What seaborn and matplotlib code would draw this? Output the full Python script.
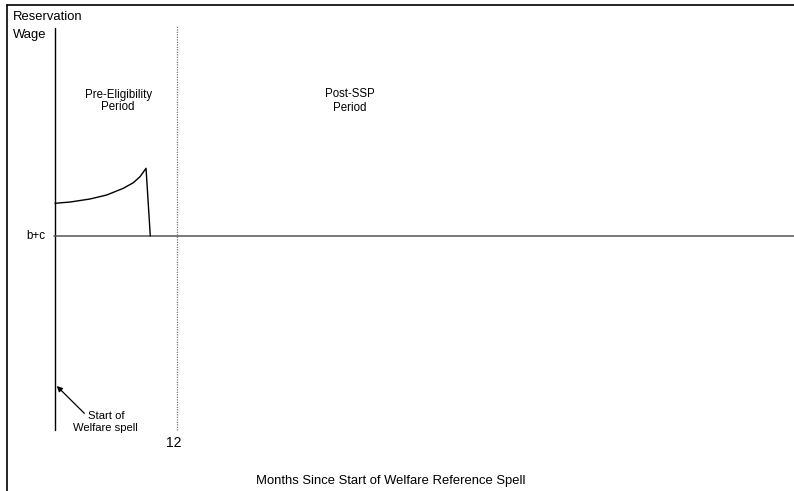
import pandas as pd
import matplotlib.pyplot as plt
import seaborn as sns

# datos (meses, salario de reserva relativo a b+c)
meses = [0.0, 1.5, 3.44, 5.08, 6.72, 7.7, 8.36, 8.95, 9.37]
salario = [3.27, 3.4, 3.7, 4.1, 4.77, 5.33, 5.93, 6.77, 0.0]
mes_elegibilidad = 12
nivel_bc = 0.0

df = pd.DataFrame({"mes": meses, "salario": salario})

sns.set_theme(style="white")
plt.rcParams['font.family'] = ['Liberation Sans', 'DejaVu Sans']
plt.rcParams['text.color'] = 'black'

fig = plt.figure(figsize=(7.94, 4.91), dpi=100)
ax = fig.add_axes([0, 0, 1, 1])
ax.set_xlim(-5.41, 72.67)
ax.set_ylim(-25.5, 23.6)
ax.axis("off")

# marco (solo izquierda y arriba)
ax.plot([-4.72, -4.72], [-25.5, 23.1], color="black", lw=1.2)
ax.plot([-4.72, 72.67], [23.1, 23.1], color="black", lw=1.2)

# ejes del diagrama
ax.plot([0, 0], [-19.4, 20.8], color="black", lw=1)
ax.plot([mes_elegibilidad, mes_elegibilidad], [-19.4, 21.0], color="#777777", lw=0.9, ls=(0, (1, 1)))
ax.plot([-0.1, 72.67], [nivel_bc, nivel_bc], color="#555555", lw=1.1)

# curva del salario de reserva
sns.lineplot(data=df, x="mes", y="salario", color="black", lw=1, sort=False, ax=ax)

# textos
ax.text(-4.1, 21.9, "Reservation", fontsize=9.4, ha="left", va="center")
ax.text(-4.1, 20.1, "Wage", fontsize=9.4, ha="left", va="center")
ax.text(6.2, 13.5, "Pre-Eligibility\nPeriod", fontsize=8.3, ha="center", va="center", linespacing=1.05)
ax.text(29.0, 13.5, "Post-SSP\nPeriod", fontsize=8.3, ha="center", va="center", linespacing=1.15)
ax.text(-0.95, nivel_bc, "b+c", fontsize=8.3, ha="right", va="center")
ax.text(mes_elegibilidad - 0.3, -20.7, "12", fontsize=10, ha="center", va="center")
ax.text(33.0, -24.47, "Months Since Start of Welfare Reference Spell", fontsize=9.4, ha="center", va="center")
ax.text(5.0, -18.6, "Start of\nWelfare spell", fontsize=8.1, ha="center", va="center", linespacing=1.2)
ax.annotate("", xy=(0.17, -15.0), xytext=(2.88, -17.73),
            arrowprops=dict(arrowstyle="-|>", color="black", lw=0.9, shrinkA=0, shrinkB=0,
                            mutation_scale=8))

plt.savefig("out.png", dpi=100)
